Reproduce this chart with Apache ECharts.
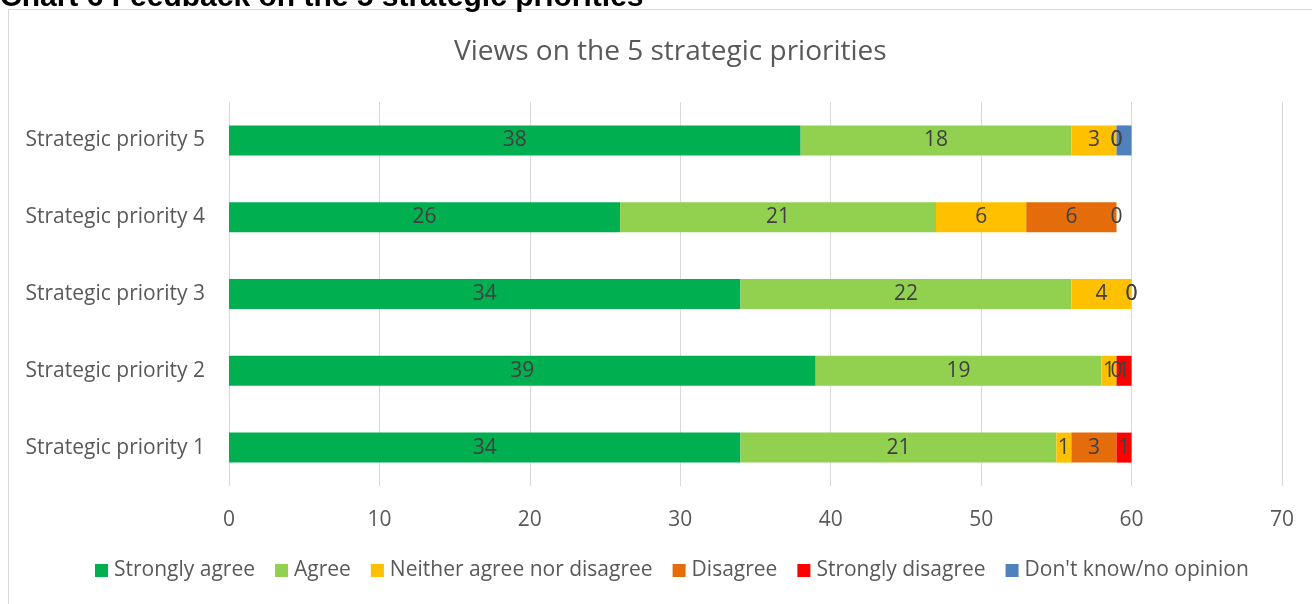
<!DOCTYPE html>
<html>
<head>
<meta charset="utf-8">
<script src="https://cdn.jsdelivr.net/npm/echarts@6/dist/echarts.min.js"></script>
<style>
  html, body { margin: 0; padding: 0; background: #fff; }
  #chart { width: 1312px; height: 604px; }
</style>
</head>
<body>
<div id="chart"></div>
<script>
// Survey responses per strategic priority (counts of respondents)
const categories = ['Strategic priority 1', 'Strategic priority 2', 'Strategic priority 3', 'Strategic priority 4', 'Strategic priority 5'];
const stronglyAgree = [34, 39, 34, 26, 38];
const agree = [21, 19, 22, 21, 18];
const neither = [1, 1, 4, 6, 3];
const disagree = [3, 0, 0, 6, 0];
const stronglyDisagree = [1, 1, 0, 0, 0];
const dontKnow = [0, 0, 0, 0, 1];
const xTicks = [0, 10, 20, 30, 40, 50, 60, 70];

const seriesDefs = [
  { name: 'Strongly agree', data: stronglyAgree, color: '#00B050', label: true },
  { name: 'Agree', data: agree, color: '#92D050', label: true },
  { name: 'Neither agree nor disagree', data: neither, color: '#FFC000', label: true },
  { name: 'Disagree', data: disagree, color: '#E46C0A', label: true },
  { name: 'Strongly disagree', data: stronglyDisagree, color: '#FF0000', label: true },
  { name: "Don't know/no opinion", data: dontKnow, color: '#4F81BD', label: false }
];

const font = '"Open Sans", "Noto Sans", sans-serif';
const chart = echarts.init(document.getElementById('chart'), null, { renderer: 'canvas' });

chart.setOption({
  animation: false,
  backgroundColor: '#fff',
  textStyle: { fontFamily: font },
  graphic: [
    {
      type: 'rect', silent: true, z: -1,
      shape: { x: 8.5, y: 9.5, width: 1320, height: 620 },
      style: { fill: '#fff', stroke: '#d9d9d9', lineWidth: 1 }
    },
    {
      type: 'text', silent: true,
      style: {
        x: 0, y: 13, text: 'Chart 6 Feedback on the 5 strategic priorities',
        font: 'bold 30px "Liberation Sans", Arial, sans-serif',
        fill: '#000', verticalAlign: 'bottom'
      }
    }
  ],
  title: {
    text: 'Views on the 5 strategic priorities',
    left: 449, top: 33,
    textStyle: { fontFamily: font, fontSize: 28, fontWeight: 'normal', color: '#595959' }
  },
  legend: {
    bottom: 18, left: 90,
    itemWidth: 13, itemHeight: 13, itemGap: 20,
    icon: 'rect',
    textStyle: { fontFamily: font, fontSize: 21, color: '#595959', padding: [0, 0, 0, 1] },
    data: seriesDefs.map(s => s.name)
  },
  grid: { left: 229, right: 30, top: 102, bottom: 118, containLabel: false },
  xAxis: {
    type: 'value', min: xTicks[0], max: xTicks[xTicks.length - 1], interval: 10,
    axisLine: { show: false }, axisTick: { show: false },
    splitLine: { lineStyle: { color: '#d9d9d9', width: 1 } },
    axisLabel: { fontFamily: font, fontSize: 21, color: '#595959', margin: 24 }
  },
  yAxis: {
    type: 'category', data: categories,
    axisLine: { show: false }, axisTick: { show: false },
    axisLabel: { fontFamily: font, fontSize: 21, color: '#595959', margin: 24 }
  },
  series: seriesDefs.map(s => ({
    name: s.name, type: 'bar', stack: 'total', data: s.data,
    barWidth: 30,
    itemStyle: { color: s.color },
    label: {
      show: s.label, position: 'inside',
      fontFamily: font, fontSize: 21, color: '#404040'
    }
  }))
});
</script>
</body>
</html>
